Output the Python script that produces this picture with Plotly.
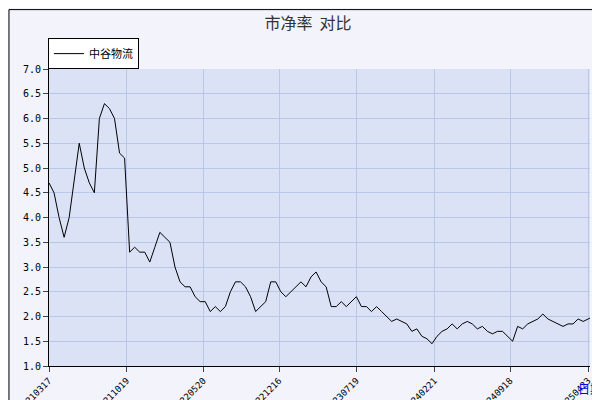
import pandas as pd
import plotly.graph_objects as go

# 市净率, sampled about every 14 days from 2021-03-17
pb_values = [
    4.7, 4.5, 4.0, 3.6, 4.0, 4.7, 5.5, 5.0, 4.7, 4.5,
    6.0, 6.3, 6.2, 6.0, 5.3, 5.2, 3.3, 3.4, 3.3, 3.3,
    3.1, 3.4, 3.7, 3.6, 3.5, 3.0, 2.7, 2.6, 2.6, 2.4,
    2.3, 2.3, 2.1, 2.2, 2.1, 2.2, 2.5, 2.7, 2.7, 2.6,
    2.4, 2.1, 2.2, 2.3, 2.7, 2.7, 2.5, 2.4, 2.5, 2.6,
    2.7, 2.6, 2.8, 2.9, 2.7, 2.6, 2.2, 2.2, 2.3, 2.2,
    2.3, 2.4, 2.2, 2.2, 2.1, 2.2, 2.1, 2.0, 1.9, 1.95,
    1.9, 1.85, 1.7, 1.75, 1.6, 1.55, 1.45, 1.6, 1.7, 1.75,
    1.85, 1.75, 1.85, 1.9, 1.85, 1.75, 1.8, 1.7, 1.65, 1.7,
    1.7, 1.6, 1.5, 1.8, 1.75, 1.85, 1.9, 1.95, 2.05, 1.95,
    1.9, 1.85, 1.8, 1.85, 1.85, 1.95, 1.9, 1.95, 2.0,
]
dates = pd.date_range("2021-03-17", periods=len(pb_values), freq="14D")

tick_dates = ["2021-03-17", "2021-10-19", "2022-05-20", "2022-12-16",
              "2023-07-19", "2024-02-21", "2024-09-18", "2025-04-23"]
tick_labels = ["20210317", "20211019", "20220520", "20221216",
               "20230719", "20240221", "20240918", "20250423"]

fig = go.Figure()
fig.add_trace(go.Scatter(x=dates, y=pb_values, mode="lines", name="中谷物流",
                         line=dict(color="black", width=1)))

fig.update_layout(
    width=600, height=400,
    margin=dict(l=41, r=18, t=61, b=42, autoexpand=False),
    paper_bgcolor="#f2f3fb",
    plot_bgcolor="#dce2f6",
    font=dict(family="Noto Sans CJK SC", size=11, color="black"),
    title=dict(text="市净率  对比", x=0.5, y=0.975, xanchor="center",
               font=dict(size=16, color="#333333")),
    showlegend=True,
    legend=dict(x=-0.002, y=1.104, xanchor="left", yanchor="top",
                bgcolor="white", bordercolor="black", borderwidth=1,
                font=dict(size=11)),
    shapes=[dict(type="rect", xref="paper", yref="paper", x0=-0.074, x1=1.03,
                 y0=-0.135, y1=1.2, line=dict(color="black", width=1))],
    annotations=[dict(text="日期", xref="paper", yref="paper", x=1.0, y=-0.04,
                      xanchor="center", yanchor="top", showarrow=False,
                      font=dict(color="blue", size=12))],
)
fig.update_xaxes(tickvals=tick_dates, ticktext=tick_labels, tickangle=-45,
                 range=["2021-03-17", "2025-04-28"], gridcolor="#b9c8ea",
                 showline=True, linecolor="black", ticks="outside",
                 tickfont=dict(family="DejaVu Sans Mono", size=9))
fig.update_yaxes(range=[1.0, 7.0], dtick=0.5, tickformat=".1f",
                 gridcolor="#b9c8ea", showline=True, linecolor="black",
                 ticks="outside", tickfont=dict(family="DejaVu Sans Mono", size=10))

fig.write_html("out.html")
